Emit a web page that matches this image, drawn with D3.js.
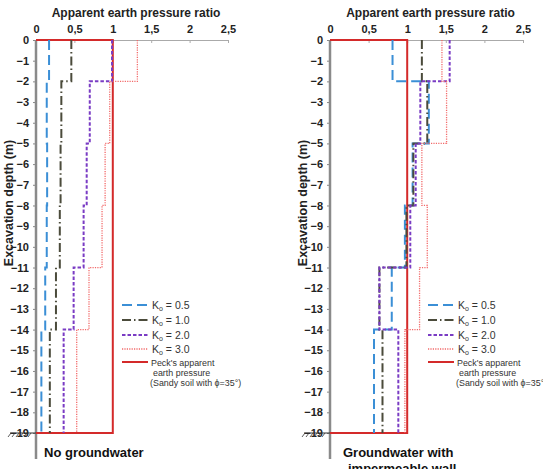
<!DOCTYPE html>
<html>
<head>
<meta charset="utf-8">
<script src="https://cdn.jsdelivr.net/npm/d3@7"></script>
<style>
  body { margin: 0; background: #fff; }
  svg { font-family: "Liberation Sans", Arial, sans-serif; }
  .tick text { font-size: 11px; font-weight: bold; fill: #222; }
</style>
</head>
<body>
<div id="chart"></div>
<script>
// layer boundaries (m) and ratio per layer
var depths = [0, -2, -5, -8, -11, -14, -19];
var xTicks = [0, 0.5, 1, 1.5, 2, 2.5];
var yTicks = d3.range(0, -20, -1);
var seriesNames = ["0.5", "1.0", "2.0", "3.0"];

// no groundwater
var left_k05 = [0.17, 0.14, 0.145, 0.14, 0.12, 0.07];
var left_k10 = [0.46, 0.33, 0.32, 0.31, 0.26, 0.18];
var left_k20 = [0.99, 0.70, 0.66, 0.62, 0.49, 0.36];
var left_k30 = [1.32, 0.96, 0.90, 0.86, 0.69, 0.53];

// groundwater with impermeable wall
var right_k05 = [0.81, 1.28, 1.07, 0.97, 0.80, 0.57];
var right_k10 = [1.19, 1.26, 1.08, 0.99, 0.64, 0.68];
var right_k20 = [1.55, 1.17, 1.11, 1.04, 0.64, 0.885];
var right_k30 = [1.45, 1.51, 1.19, 1.26, 1.16, 0.97];

var peck = 1.0;

var styles = [
  { color: "#3b8fd6", width: 2, dash: "10,5" },
  { color: "#4b4b3b", width: 2, dash: "9,3,1.5,3" },
  { color: "#7a3cc4", width: 2, dash: "3.5,2" },
  { color: "#f26a6a", width: 1.3, dash: "1.2,1.2" }
];

var svg = d3.select("#chart").append("svg")
  .attr("width", 543)
  .attr("height", 469);

var y = d3.scaleLinear().domain([0, -19]).range([40, 433]);

function stepPoints(vals) {
  var pts = [];
  vals.forEach(function (v, i) {
    pts.push([v, depths[i]]);
    pts.push([v, depths[i + 1]]);
  });
  return pts;
}

function drawPanel(x0, x1, series, caption, legendX) {
  var x = d3.scaleLinear().domain([0, 2.5]).range([x0, x1]);
  var g = svg.append("g");

  // title
  g.append("text")
    .attr("x", (x0 + x1) / 2 + 4)
    .attr("y", 17)
    .attr("text-anchor", "middle")
    .style("font-size", "12px")
    .style("font-weight", "bold")
    .attr("fill", "#222")
    .text("Apparent earth pressure ratio");

  // top axis
  var xAxis = d3.axisTop(x)
    .tickValues(xTicks)
    .tickSize(-3)
    .tickPadding(7)
    .tickFormat(function (d) { return String(d).replace(".", ","); });
  var gx = g.append("g")
    .attr("transform", "translate(0," + y(0) + ")")
    .call(xAxis);
  gx.select(".domain").attr("stroke", "#aaa");
  gx.selectAll(".tick line").attr("stroke", "#aaa");

  // left axis
  var yAxis = d3.axisLeft(y)
    .tickValues(yTicks)
    .tickSize(3)
    .tickPadding(4)
    .tickFormat(d3.format("d"));
  var gy = g.append("g")
    .attr("transform", "translate(" + x0 + ",0)")
    .call(yAxis);
  gy.select(".domain").remove();
  gy.selectAll(".tick line").attr("stroke", "#888");

  g.append("line")
    .attr("x1", x0).attr("x2", x0)
    .attr("y1", y(0)).attr("y2", 459)
    .attr("stroke", "#8a8a8a")
    .attr("stroke-width", 2.5);

  // ground symbol at base
  g.append("line")
    .attr("x1", x0 - 26).attr("x2", x0)
    .attr("y1", y(-19)).attr("y2", y(-19))
    .attr("stroke", "#333").attr("stroke-width", 1);
  d3.range(0, 6).forEach(function (i) {
    var hx = x0 - 25 + i * 4;
    g.append("line")
      .attr("x1", hx).attr("x2", hx - 3)
      .attr("y1", y(-19)).attr("y2", y(-19) + 4)
      .attr("stroke", "#333").attr("stroke-width", 0.8);
  });

  // y label
  g.append("text")
    .attr("transform", "translate(" + (x0 - 23) + "," + 203 + ") rotate(-90)")
    .attr("text-anchor", "middle")
    .style("font-size", "12.5px")
    .style("font-weight", "bold")
    .attr("fill", "#222")
    .text("Excavation depth (m)");

  var line = d3.line()
    .x(function (d) { return x(d[0]); })
    .y(function (d) { return y(d[1]); });

  // Peck's envelope
  g.append("path")
    .attr("d", line([[0, 0], [peck, 0], [peck, -19], [0, -19]]))
    .attr("fill", "none")
    .attr("stroke", "#d42a2a")
    .attr("stroke-width", 2);

  series.forEach(function (vals, i) {
    g.append("path")
      .attr("d", line(stepPoints(vals)))
      .attr("fill", "none")
      .attr("stroke", styles[i].color)
      .attr("stroke-width", styles[i].width)
      .attr("stroke-dasharray", styles[i].dash);
  });

  // legend
  var lg = g.append("g").attr("transform", "translate(" + legendX + ",0)");
  var rows = [305, 320, 335, 349];
  seriesNames.forEach(function (name, i) {
    lg.append("line")
      .attr("x1", 0).attr("x2", 26)
      .attr("y1", rows[i]).attr("y2", rows[i])
      .attr("stroke", styles[i].color)
      .attr("stroke-width", styles[i].width)
      .attr("stroke-dasharray", styles[i].dash);
    var t = lg.append("text")
      .attr("x", 30).attr("y", rows[i] + 4)
      .style("font-size", "10.5px")
      .attr("fill", "#333");
    t.append("tspan").text("K");
    t.append("tspan").attr("dy", 2).style("font-size", "7px").text("o");
    t.append("tspan").attr("dy", -2).text(" = " + name);
  });
  lg.append("line")
    .attr("x1", 0).attr("x2", 26)
    .attr("y1", 362).attr("y2", 362)
    .attr("stroke", "#d42a2a").attr("stroke-width", 2);
  var peckLines = [
    { t: "Peck's apparent", x: 29, y: 366 },
    { t: "earth pressure", x: 31, y: 376 },
    { t: "(Sandy soil with \u03d5=35\u00b0)", x: 28, y: 386 }
  ];
  peckLines.forEach(function (p) {
    lg.append("text")
      .attr("x", p.x).attr("y", p.y)
      .style("font-size", "8.9px")
      .attr("fill", "#333")
      .text(p.t);
  });

  // caption
  caption.forEach(function (c, i) {
    g.append("text")
      .attr("x", c.x).attr("y", 457 + i * 16)
      .style("font-size", "13px")
      .style("font-weight", "bold")
      .attr("fill", "#111")
      .text(c.t);
  });
}

drawPanel(36, 228, [left_k05, left_k10, left_k20, left_k30],
  [{ t: "No groundwater", x: 44 }], 122);
drawPanel(330, 523, [right_k05, right_k10, right_k20, right_k30],
  [{ t: "Groundwater with", x: 343 }, { t: "impermeable wall", x: 348 }], 428);
</script>
</body>
</html>
